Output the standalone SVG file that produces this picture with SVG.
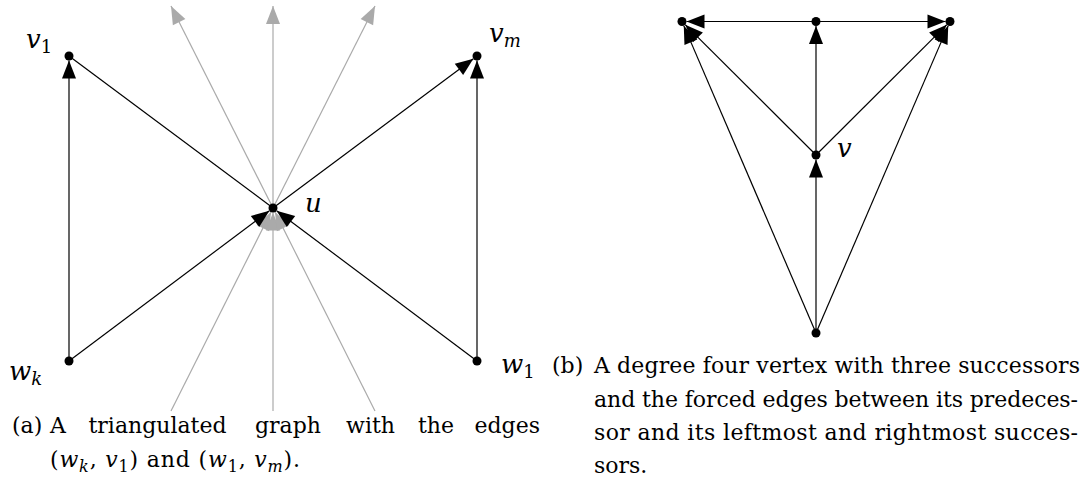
<svg xmlns="http://www.w3.org/2000/svg" width="1086" height="490" viewBox="0 0 1086 490">
<style>
.e{stroke:#000;stroke-width:1.2;fill:none}
.ea{stroke:#000;stroke-width:1.2;fill:none;marker-end:url(#ab)}
.ga{stroke:#aaaaaa;stroke-width:1.2;fill:none;marker-end:url(#ag)}
.n{fill:#000}
.lb{font-family:'DejaVu Serif',serif;font-size:26px;font-style:italic;fill:#000}
.cp{font-family:'DejaVu Serif',serif;font-size:22px;fill:#000}
.sub{font-size:18px;font-style:normal}
.subi{font-size:18px;font-style:italic}
.it{font-style:italic}
.cs{font-size:16px}
</style>
<defs>
<marker id="ab" markerUnits="userSpaceOnUse" markerWidth="18" markerHeight="14" refX="18" refY="7" orient="auto" overflow="visible">
<path d="M0,0 L18,7 L0,14 z" fill="#000"/>
</marker>
<marker id="ag" markerUnits="userSpaceOnUse" markerWidth="18" markerHeight="14" refX="18" refY="7" orient="auto" overflow="visible">
<path d="M0,0 L18,7 L0,14 z" fill="#aaaaaa"/>
</marker>
</defs>
<g id="connectors">
<g id="gray-edges">
<line class="ga" x1="273" y1="208" x2="171" y2="6"/>
<line class="ga" x1="273" y1="208" x2="273" y2="6"/>
<line class="ga" x1="273" y1="208" x2="375" y2="6"/>
<line class="ga" x1="171" y1="411" x2="270.98" y2="212.02"/>
<line class="ga" x1="273" y1="411" x2="273" y2="212.5"/>
<line class="ga" x1="375" y1="411" x2="275.02" y2="212.02"/>
</g>
<line class="ea" x1="69" y1="361" x2="69" y2="60.5"/>
<line class="ea" x1="477" y1="361" x2="477" y2="60.5"/>
<line class="ea" x1="273" y1="208" x2="473.39" y2="58.69"/>
<line class="e" x1="273" y1="208" x2="69" y2="56"/>
<line class="ea" x1="69" y1="361" x2="269.4" y2="210.7"/>
<line class="ea" x1="477" y1="361" x2="276.6" y2="210.7"/>
<line class="ea" x1="816" y1="21.5" x2="686.5" y2="21.5"/>
<line class="ea" x1="816" y1="21.5" x2="945.5" y2="21.5"/>
<line class="ea" x1="816" y1="155" x2="816" y2="26"/>
<line class="ea" x1="816" y1="155" x2="685.19" y2="24.68"/>
<line class="ea" x1="816" y1="155" x2="946.81" y2="24.68"/>
<line class="ea" x1="816" y1="333" x2="816" y2="159.5"/>
<line class="ea" x1="816" y1="333" x2="683.78" y2="25.63"/>
<line class="ea" x1="816" y1="333" x2="948.22" y2="25.63"/>
</g>
<g id="node-v1"><circle class="n" cx="69" cy="56" r="4.5"/><text class="lb" x="26" y="48">v<tspan class="sub" dy="5">1</tspan></text></g>
<g id="node-vm"><circle class="n" cx="477" cy="56" r="4.5"/><text class="lb" x="489" y="42">v<tspan class="subi" dy="5">m</tspan></text></g>
<g id="node-u"><circle class="n" cx="273" cy="208" r="4.5"/><text class="lb" x="305" y="212">u</text></g>
<g id="node-wk"><circle class="n" cx="69" cy="361" r="4.5"/><text class="lb" x="9" y="380">w<tspan class="subi" dy="5">k</tspan></text></g>
<g id="node-w1"><circle class="n" cx="477" cy="361" r="4.5"/><text class="lb" x="501" y="373">w<tspan class="sub" dy="5">1</tspan></text></g>
<g id="node-tl"><circle class="n" cx="682" cy="21.5" r="4.5"/></g>
<g id="node-tm"><circle class="n" cx="816" cy="21.5" r="4.5"/></g>
<g id="node-tr"><circle class="n" cx="950" cy="21.5" r="4.5"/></g>
<g id="node-v"><circle class="n" cx="816" cy="155" r="4.5"/><text class="lb" x="837" y="157">v</text></g>
<g id="node-b"><circle class="n" cx="816" cy="333" r="4.5"/></g>
<g id="caption-a">
<text class="cp" x="12" y="433">(a)</text>
<text class="cp" x="50" y="433">A</text>
<text class="cp" x="157.5" y="433" text-anchor="middle">triangulated</text>
<text class="cp" x="288" y="433" text-anchor="middle">graph</text>
<text class="cp" x="370.5" y="433" text-anchor="middle">with</text>
<text class="cp" x="436" y="433" text-anchor="middle">the</text>
<text class="cp" x="540" y="433" text-anchor="end">edges</text>
<text class="cp" x="50" y="467" textLength="250" lengthAdjust="spacing">(<tspan class="it">w</tspan><tspan class="it cs" dy="5">k</tspan><tspan dy="-5">, </tspan><tspan class="it">v</tspan><tspan class="cs" dy="5">1</tspan><tspan dy="-5">) and (</tspan><tspan class="it">w</tspan><tspan class="cs" dy="5">1</tspan><tspan dy="-5">, </tspan><tspan class="it">v</tspan><tspan class="it cs" dy="5">m</tspan><tspan dy="-5">).</tspan></text>
</g>
<g id="caption-b">
<text class="cp" x="552" y="373">(b)</text>
<text class="cp" x="594" y="373" textLength="486" lengthAdjust="spacing">A degree four vertex with three successors</text>
<text class="cp" x="594" y="407" textLength="484" lengthAdjust="spacing">and the forced edges between its predeces-</text>
<text class="cp" x="594" y="440" textLength="484" lengthAdjust="spacing">sor and its leftmost and rightmost succes-</text>
<text class="cp" x="594" y="473">sors.</text>
</g>
</svg>
